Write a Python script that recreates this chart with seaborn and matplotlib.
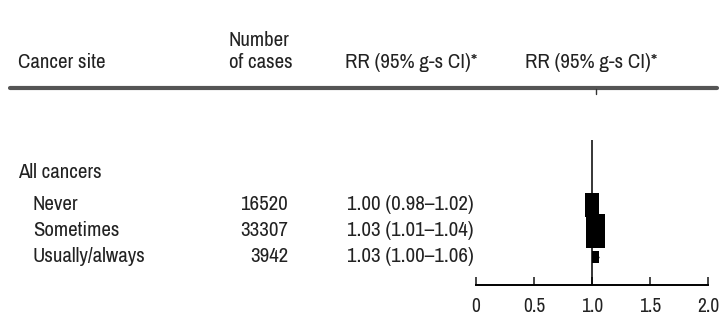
import numpy as np
import pandas as pd
import seaborn as sns
import matplotlib.pyplot as plt
from matplotlib.lines import Line2D
from matplotlib import font_manager

# --- DATA ---
site = "All cancers"
groups = ["Never", "Sometimes", "Usually/always"]
cases = [16520, 33307, 3942]
rr = [1.00, 1.03, 1.03]
ci_lo = [0.98, 1.01, 1.00]
ci_hi = [1.02, 1.04, 1.06]
xticks = [0, 0.5, 1.0, 1.5, 2.0]
xtick_labels = ["0", "0.5", "1.0", "1.5", "2.0"]

W, H = 723, 324

sns.set_theme(style="white")

# a narrow sans if there is one, otherwise Liberation Sans a bit smaller
fonts = font_manager.fontManager.ttflist
narrow = [f for f in fonts if "Narrow" in f.name or
          (f.name == "Liberation Sans" and str(f.stretch) in ("condensed", "semi-condensed", "600"))]
if narrow:
    plt.rcParams['font.family'] = [narrow[0].name, 'DejaVu Sans']
    if "Narrow" not in narrow[0].name:
        plt.rcParams['font.stretch'] = narrow[0].stretch
    FS = 15
else:
    plt.rcParams['font.family'] = ['Liberation Sans', 'DejaVu Sans']
    FS = 12.8

df = pd.DataFrame({"group": groups, "cases": cases, "rr": rr,
                   "lo": ci_lo, "hi": ci_hi})
df["row"] = np.arange(len(df))

fig = plt.figure(figsize=(W / 100, H / 100), dpi=100)


def px(x, y):
    # pixel (from top-left) -> figure fraction
    return x / W, 1 - y / H


TXT = "#222"

# header text
fig.text(*px(18, 62), "Cancer site", fontsize=FS, va="center", ha="left", color=TXT)
fig.text(*px(229, 40), "Number", fontsize=FS, va="center", ha="left", color=TXT)
fig.text(*px(229, 62), "of cases", fontsize=FS, va="center", ha="left", color=TXT)
fig.text(*px(345, 62), "RR (95% g-s CI)*", fontsize=FS, va="center", ha="left", color=TXT)
fig.text(*px(525, 62), "RR (95% g-s CI)*", fontsize=FS, va="center", ha="left", color=TXT)

# header rule
fig.add_artist(Line2D([10 / W, 717 / W], [1 - 88 / H] * 2, color="#555", lw=3,
                      transform=fig.transFigure))
fig.add_artist(Line2D([596 / W] * 2, [1 - 89 / H, 1 - 94 / H], color="#333", lw=1,
                      transform=fig.transFigure))

# forest panel
row_y0, row_dy = 205, 26
top_px, bot_px = 140, 285
ax = fig.add_axes([476 / W, 1 - bot_px / H, (708 - 476) / W, (bot_px - top_px) / H])
ax.set_xlim(0, 2)
ax.set_ylim((bot_px - row_y0) / row_dy, (top_px - row_y0) / row_dy)

ax.axvline(1.0, color="black", lw=1.1, zorder=1)
ax.hlines(df["row"], df["lo"], df["hi"], color="black", lw=1, zorder=1)

box = [(-0.6, -1), (0.6, -1), (0.6, 1), (-0.6, 1), (-0.6, -1)]
sns.scatterplot(data=df, x="rr", y="row", size="cases", size_norm=(0, max(cases)),
                sizes=(0, 565), marker=box, color="black", linewidth=0,
                legend=False, ax=ax, zorder=3, clip_on=False)

for s in ["top", "right", "left"]:
    ax.spines[s].set_visible(False)
ax.spines["bottom"].set_color("black")
ax.spines["bottom"].set_linewidth(1.4)
ax.set_yticks([])
ax.set_xticks(xticks)
ax.set_xticklabels(xtick_labels, fontsize=FS - 1, color=TXT)
ax.tick_params(axis="x", direction="in", length=6, width=1.2, pad=9, bottom=True)
ax.set_xlabel("")
ax.set_ylabel("")
ax.patch.set_alpha(0)

# table text
fig.text(*px(18, 172), site, fontsize=FS, va="center", ha="left", color=TXT)
for i, r in df.iterrows():
    y = row_y0 + row_dy * r["row"]
    fig.text(*px(33, y), r["group"], fontsize=FS, va="center", ha="left", color=TXT)
    fig.text(*px(288, y), f"{r['cases']}", fontsize=FS, va="center", ha="right", color=TXT)
    fig.text(*px(347, y), f"{r['rr']:.2f} ({r['lo']:.2f}\u2013{r['hi']:.2f})",
             fontsize=FS, va="center", ha="left", color=TXT)

plt.savefig("out.png", dpi=100)
